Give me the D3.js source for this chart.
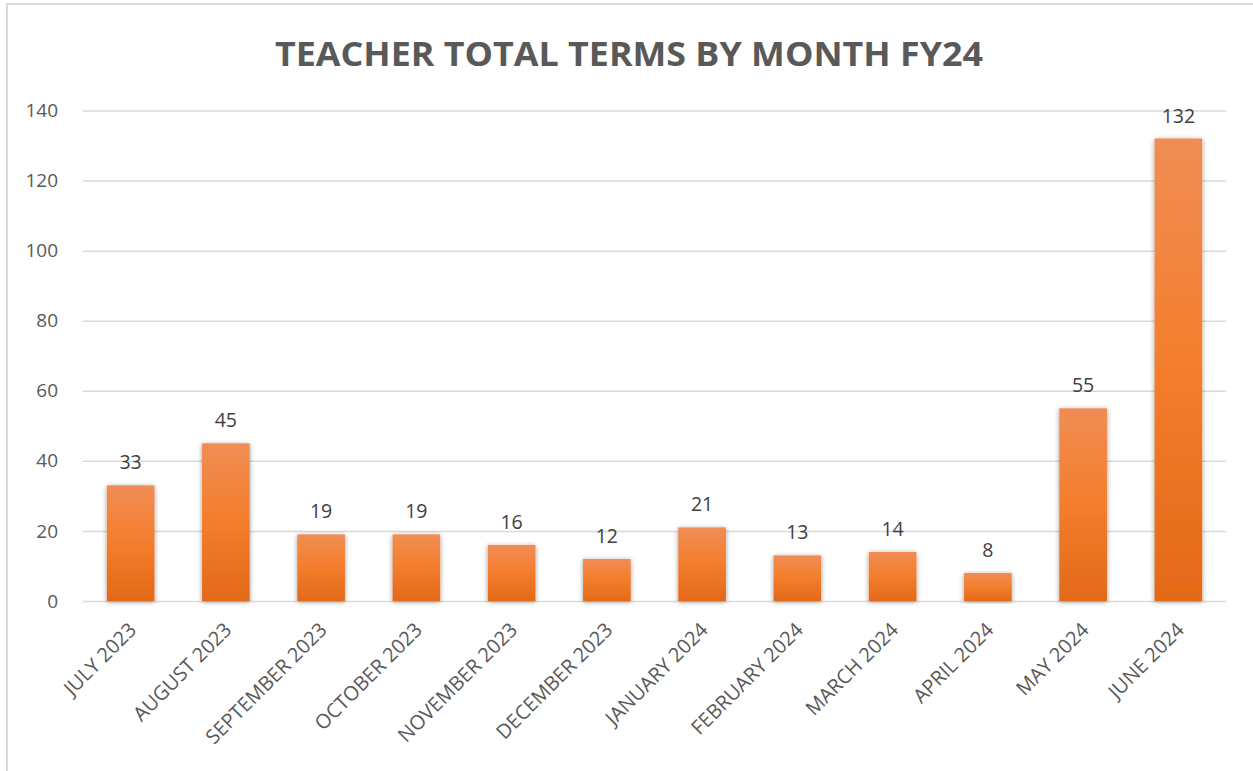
<!DOCTYPE html>
<html>
<head>
<meta charset="utf-8">
<script src="https://cdn.jsdelivr.net/npm/d3@7"></script>
<style>
  body { margin: 0; background: #fff; }
  svg { display: block; }
  text { font-family: 'Open Sans', sans-serif; }
</style>
</head>
<body>
<svg></svg>
<script>
// Data
const months = ['JULY 2023', 'AUGUST 2023', 'SEPTEMBER 2023', 'OCTOBER 2023', 'NOVEMBER 2023', 'DECEMBER 2023',
  'JANUARY 2024', 'FEBRUARY 2024', 'MARCH 2024', 'APRIL 2024', 'MAY 2024', 'JUNE 2024']
const terms = [33, 45, 19, 19, 16, 12, 21, 13, 14, 8, 55, 132]
const yTicks = [0, 20, 40, 60, 80, 100, 120, 140]
const title = 'TEACHER TOTAL TERMS BY MONTH FY24'

const width = 1253
const height = 771
const plot = { left: 83, right: 1226, top: 110.5, bottom: 601 }

const svg = d3.select('svg').attr('width', width).attr('height', height)

// chart frame
svg.append('rect')
  .attr('x', 7).attr('y', 4)
  .attr('width', 1262).attr('height', 790)
  .attr('fill', '#fff')
  .attr('stroke', '#d9d9d9')
  .attr('stroke-width', 2)

const defs = svg.append('defs')
const grad = defs.append('linearGradient')
  .attr('id', 'bar-fill')
  .attr('x1', 0).attr('y1', 0).attr('x2', 0).attr('y2', 1)
grad.append('stop').attr('offset', '0%').attr('stop-color', '#f08d55')
grad.append('stop').attr('offset', '45%').attr('stop-color', '#f47f2f')
grad.append('stop').attr('offset', '100%').attr('stop-color', '#e36918')

const shadow = defs.append('filter')
  .attr('id', 'bar-shadow')
  .attr('x', '-30%').attr('y', '-10%').attr('width', '160%').attr('height', '120%')
shadow.append('feDropShadow')
  .attr('dx', 0).attr('dy', 1)
  .attr('stdDeviation', 2.4)
  .attr('flood-color', '#000')
  .attr('flood-opacity', 0.4)

// Scales
const x = d3.scaleBand().domain(months).range([plot.left, plot.right]).paddingInner(0.5).paddingOuter(0.25)
const y = d3.scaleLinear().domain([0, 140]).range([plot.bottom, plot.top])

// Title
svg.append('text')
  .attr('x', 629)
  .attr('y', 66)
  .attr('text-anchor', 'middle')
  .attr('font-size', 34)
  .attr('font-weight', 700)
  .attr('fill', '#595959')
  .attr('textLength', 708)
  .attr('lengthAdjust', 'spacingAndGlyphs')
  .text(title)

// Gridlines + y labels
const yAxis = d3.axisLeft(y).tickValues(yTicks).tickSize(-(plot.right - plot.left)).tickPadding(25)
svg.append('g')
  .attr('transform', `translate(${plot.left},0)`)
  .call(yAxis)
  .call((g) => g.select('.domain').remove())
  .call((g) => g.selectAll('line').attr('stroke', '#d9d9d9').attr('stroke-width', 1.5))
  .call((g) => g.selectAll('text')
    .attr('font-size', 19)
    .attr('fill', '#595959')
    .attr('font-family', "'Open Sans', sans-serif"))

// Bars
svg.append('g')
  .selectAll('rect')
  .data(terms)
  .join('rect')
  .attr('x', (d, i) => x(months[i]))
  .attr('y', (d) => y(d))
  .attr('width', x.bandwidth())
  .attr('height', (d) => y(0) - y(d))
  .attr('fill', 'url(#bar-fill)')
  .attr('filter', 'url(#bar-shadow)')

// Value labels
svg.append('g')
  .selectAll('text')
  .data(terms)
  .join('text')
  .attr('x', (d, i) => x(months[i]) + x.bandwidth() / 2)
  .attr('y', (d) => y(d) - 16)
  .attr('text-anchor', 'middle')
  .attr('font-size', 19.5)
  .attr('fill', '#404040')
  .text((d) => d)

// Category labels
svg.append('g')
  .selectAll('text')
  .data(months)
  .join('text')
  .attr('transform', (d) => `translate(${x(d) + x.bandwidth() / 2 - 3},${plot.bottom + 20}) rotate(-45)`)
  .attr('dy', '0.71em')
  .attr('text-anchor', 'end')
  .attr('font-size', 20)
  .attr('fill', '#595959')
  .text((d) => d)
</script>
</body>
</html>
